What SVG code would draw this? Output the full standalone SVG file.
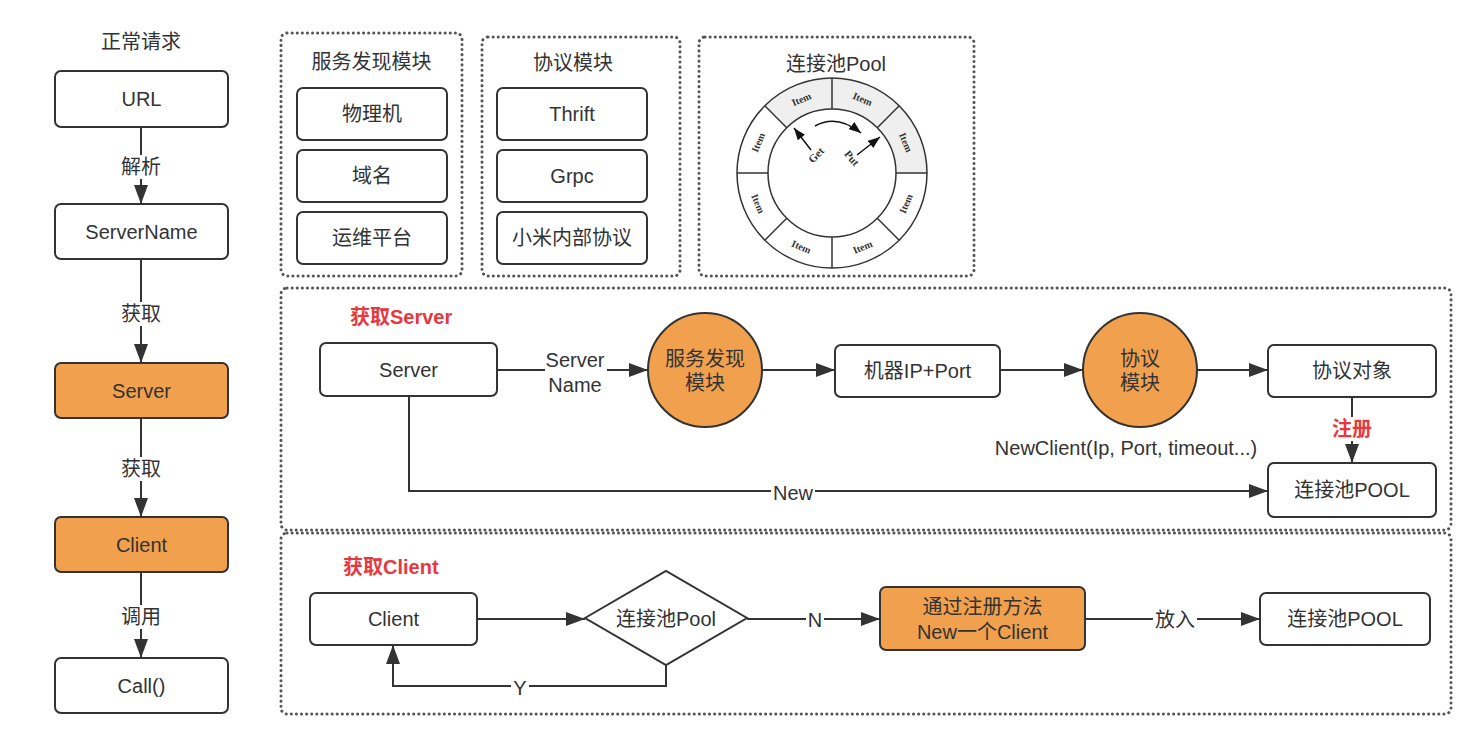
<svg xmlns="http://www.w3.org/2000/svg" width="1484" height="732" viewBox="0 0 1484 732">
<defs>
<style>
text{font-family:"Liberation Sans","Noto Sans CJK SC",sans-serif;font-size:20px;fill:#333;text-anchor:middle;dominant-baseline:central}
.box{fill:#fff;stroke:#333;stroke-width:2}
.org{fill:#f1a04e;stroke:#333;stroke-width:2}
.dot{fill:none;stroke:#555;stroke-width:3;stroke-dasharray:0.1 5;stroke-linecap:round}
.ln{fill:none;stroke:#333;stroke-width:2}
.red{fill:#e8383d;font-weight:bold;text-anchor:start}
.redc{fill:#e8383d;font-weight:bold}
.bg{fill:#fff}
.item{font-family:"Liberation Serif",serif;font-size:10px;font-weight:bold}
.ring{fill:none;stroke:#333;stroke-width:1.5}
.seg{fill:#efefef;stroke:none}
</style>
<marker id="ar" viewBox="0 0 19 14" refX="19" refY="7" markerWidth="19" markerHeight="14" markerUnits="userSpaceOnUse" orient="auto">
<path d="M0,0 L19,7 L0,14 Z" fill="#333"/>
</marker>
<marker id="ars" viewBox="0 0 12 9" refX="12" refY="4.5" markerWidth="12" markerHeight="9" markerUnits="userSpaceOnUse" orient="auto">
<path d="M0,0 L12,4.5 L0,9 Z" fill="#111"/>
</marker>
</defs>

<!-- connectors -->
<g id="connectors">
<line class="ln" x1="141" y1="127" x2="141" y2="204" marker-end="url(#ar)"/>
<line class="ln" x1="141" y1="259" x2="141" y2="363" marker-end="url(#ar)"/>
<line class="ln" x1="141" y1="418" x2="141" y2="517" marker-end="url(#ar)"/>
<line class="ln" x1="141" y1="572" x2="141" y2="658" marker-end="url(#ar)"/>
<line class="ln" x1="497" y1="370" x2="545" y2="370"/>
<line class="ln" x1="607" y1="370" x2="648" y2="370" marker-end="url(#ar)"/>
<line class="ln" x1="762" y1="370" x2="835" y2="370" marker-end="url(#ar)"/>
<line class="ln" x1="1000" y1="370" x2="1083" y2="370" marker-end="url(#ar)"/>
<line class="ln" x1="1197" y1="370" x2="1268" y2="370" marker-end="url(#ar)"/>
<line class="ln" x1="1352" y1="397" x2="1352" y2="463" marker-end="url(#ar)"/>
<path class="ln" d="M409,396 V491 H1268" marker-end="url(#ar)"/>
<line class="ln" x1="477" y1="619" x2="585" y2="619" marker-end="url(#ar)"/>
<line class="ln" x1="747" y1="619" x2="880" y2="619" marker-end="url(#ar)"/>
<line class="ln" x1="1085" y1="619" x2="1260" y2="619" marker-end="url(#ar)"/>
<path class="ln" d="M666,665 V686 H393 V645" marker-end="url(#ar)"/>
<!-- labels -->
<rect class="bg" x="119" y="155" width="44" height="24"/><text x="141" y="167">解析</text>
<rect class="bg" x="119" y="302" width="44" height="24"/><text x="141" y="314">获取</text>
<rect class="bg" x="119" y="457" width="44" height="24"/><text x="141" y="469">获取</text>
<rect class="bg" x="119" y="605" width="44" height="24"/><text x="141" y="617">调用</text>
<text x="575" y="360">Server</text><text x="575" y="385">Name</text>
<rect class="bg" x="1330" y="417" width="44" height="24"/><text class="redc" x="1352" y="429">注册</text>
<text x="1126" y="448">NewClient(Ip, Port, timeout...)</text>
<rect class="bg" x="771" y="481" width="44" height="24"/><text x="793" y="493">New</text>
<rect class="bg" x="806" y="608" width="18" height="24"/><text x="815" y="620">N</text>
<rect class="bg" x="1153" y="608" width="44" height="24"/><text x="1175" y="620">放入</text>
<rect class="bg" x="511" y="676" width="18" height="24"/><text x="520" y="688">Y</text>
</g>

<!-- left column -->
<text id="title-normal" x="141" y="42">正常请求</text>
<g id="n-url"><rect class="box" x="55" y="71" width="173" height="56" rx="6"/><text x="141.5" y="99">URL</text></g>
<g id="n-servername"><rect class="box" x="55" y="204" width="173" height="55" rx="6"/><text x="141.5" y="231.5">ServerName</text></g>
<g id="n-server"><rect class="org" x="55" y="363" width="173" height="55" rx="6"/><text x="141.5" y="390.5">Server</text></g>
<g id="n-client"><rect class="org" x="55" y="517" width="173" height="55" rx="6"/><text x="141.5" y="544.5">Client</text></g>
<g id="n-call"><rect class="box" x="55" y="658" width="173" height="55" rx="6"/><text x="141.5" y="685.5">Call()</text></g>

<!-- service discovery module -->
<g id="g-discovery">
<rect class="dot" x="281" y="33" width="181" height="243" rx="6"/>
<text x="371.5" y="62">服务发现模块</text>
<rect class="box" x="297" y="88" width="150" height="52" rx="6"/><text x="372" y="114">物理机</text>
<rect class="box" x="297" y="150" width="150" height="52" rx="6"/><text x="372" y="176">域名</text>
<rect class="box" x="297" y="212" width="150" height="52" rx="6"/><text x="372" y="238">运维平台</text>
</g>

<!-- protocol module -->
<g id="g-protocol">
<rect class="dot" x="482" y="37" width="198" height="239" rx="6"/>
<text x="573" y="63">协议模块</text>
<rect class="box" x="497" y="88" width="150" height="52" rx="6"/><text x="572" y="114">Thrift</text>
<rect class="box" x="497" y="150" width="150" height="52" rx="6"/><text x="572" y="176">Grpc</text>
<rect class="box" x="497" y="212" width="150" height="52" rx="6"/><text x="572" y="238">小米内部协议</text>
</g>

<!-- pool ring -->
<g id="g-pool">
<rect class="dot" x="699" y="37" width="275" height="239" rx="6"/>
<text x="836" y="64">连接池Pool</text>
<path class="seg" d="M764.8,105.8 A95,95 0 0 1 832,78 L832,109 A64,64 0 0 0 786.7,127.7 Z"/>
<path class="seg" d="M832,78 A95,95 0 0 1 899.2,105.8 L877.3,127.7 A64,64 0 0 0 832,109 Z"/>
<path class="seg" d="M899.2,105.8 A95,95 0 0 1 927,173 L896,173 A64,64 0 0 0 877.3,127.7 Z"/>
<circle class="ring" cx="832" cy="173" r="95"/>
<circle class="ring" cx="832" cy="173" r="64"/>
<g class="ring">
<line x1="832" y1="109" x2="832" y2="78"/>
<line x1="877.3" y1="127.7" x2="899.2" y2="105.8"/>
<line x1="896" y1="173" x2="927" y2="173"/>
<line x1="877.3" y1="218.3" x2="899.2" y2="240.2"/>
<line x1="832" y1="237" x2="832" y2="268"/>
<line x1="786.7" y1="218.3" x2="764.8" y2="240.2"/>
<line x1="768" y1="173" x2="737" y2="173"/>
<line x1="786.7" y1="127.7" x2="764.8" y2="105.8"/>
</g>
<text class="item" transform="translate(801.4,99.1) rotate(-22.5)">Item</text>
<text class="item" transform="translate(862.6,99.1) rotate(22.5)">Item</text>
<text class="item" transform="translate(905.9,142.4) rotate(67.5)">Item</text>
<text class="item" transform="translate(905.9,203.6) rotate(-67.5)">Item</text>
<text class="item" transform="translate(862.6,246.9) rotate(-22.5)">Item</text>
<text class="item" transform="translate(801.4,246.9) rotate(22.5)">Item</text>
<text class="item" transform="translate(758.1,203.6) rotate(67.5)">Item</text>
<text class="item" transform="translate(758.1,142.4) rotate(-67.5)">Item</text>
<path d="M815,126 Q837,114 861,133" fill="none" stroke="#111" stroke-width="1.5" marker-end="url(#ars)"/>
<line x1="811" y1="150" x2="794" y2="128" stroke="#111" stroke-width="1.5" marker-end="url(#ars)"/>
<line x1="857" y1="155" x2="880" y2="137" stroke="#111" stroke-width="1.5" marker-end="url(#ars)"/>
<text class="item" style="font-size:11px" transform="translate(816,155) rotate(-45)">Get</text>
<text class="item" style="font-size:11px" transform="translate(852,158) rotate(50)">Put</text>
</g>

<!-- get server section -->
<g id="g-getserver">
<rect class="dot" x="281" y="288" width="1170" height="242" rx="6"/>
<text class="red" x="350" y="317">获取Server</text>
</g>
<g id="s-server"><rect class="box" x="320" y="343" width="177" height="53" rx="6"/><text x="408.5" y="369.5">Server</text></g>
<g id="s-discovery"><circle class="org" cx="705" cy="370" r="57"/><text x="705" y="359">服务发现</text><text x="705" y="383">模块</text></g>
<g id="s-ipport"><rect class="box" x="835" y="345" width="165" height="52" rx="6"/><text x="917.5" y="371">机器IP+Port</text></g>
<g id="s-protocol"><circle class="org" cx="1140" cy="370" r="57"/><text x="1140" y="359">协议</text><text x="1140" y="383">模块</text></g>
<g id="s-protoobj"><rect class="box" x="1268" y="345" width="168" height="52" rx="6"/><text x="1352" y="371">协议对象</text></g>
<g id="s-pool"><rect class="box" x="1268" y="463" width="168" height="54" rx="6"/><text x="1352" y="490">连接池POOL</text></g>

<!-- get client section -->
<g id="g-getclient">
<rect class="dot" x="281" y="533" width="1170" height="181" rx="6"/>
<text class="red" x="343" y="567">获取Client</text>
</g>
<g id="c-client"><rect class="box" x="310" y="593" width="167" height="52" rx="6"/><text x="393.5" y="619">Client</text></g>
<g id="c-decision"><polygon class="box" points="585,618 666,571 747,618 666,665"/><text x="666" y="619">连接池Pool</text></g>
<g id="c-new"><rect class="org" x="880" y="587" width="205" height="63" rx="6"/><text x="982.5" y="607">通过注册方法</text><text x="982.5" y="632">New一个Client</text></g>
<g id="c-pool"><rect class="box" x="1260" y="593" width="170" height="52" rx="6"/><text x="1345" y="619">连接池POOL</text></g>
</svg>
